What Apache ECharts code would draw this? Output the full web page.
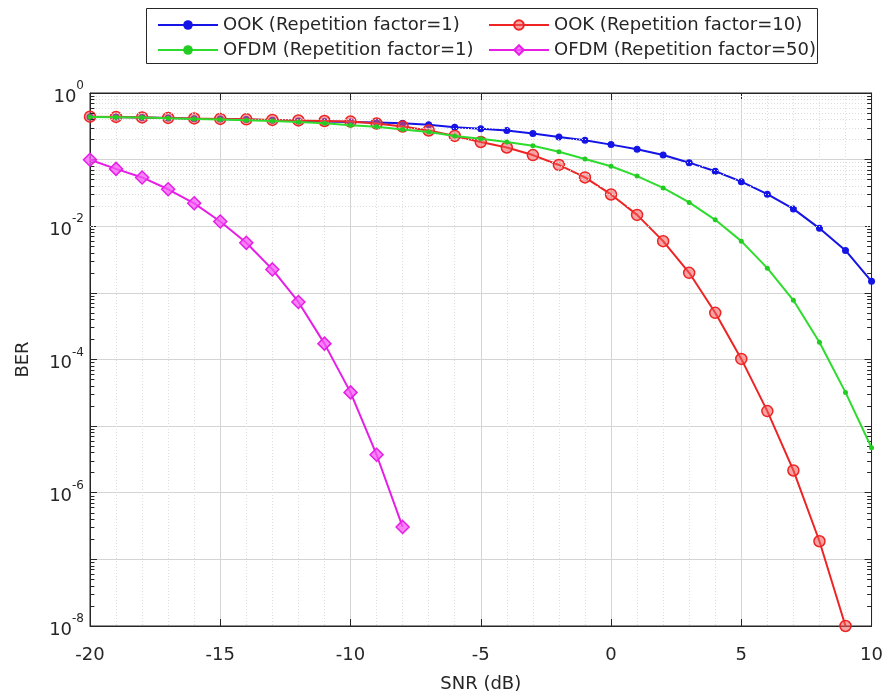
<!DOCTYPE html>
<html>
<head>
<meta charset="utf-8">
<script src="https://cdn.jsdelivr.net/npm/echarts@6/dist/echarts.min.js"></script>
<style>
  html, body { margin: 0; padding: 0; background: #ffffff; }
  #chart { width: 886px; height: 698px; }
</style>
</head>
<body>
<div id="chart"></div>
<script>
// SNR sweep in dB
const snr = [-20, -19, -18, -17, -16, -15, -14, -13, -12, -11, -10, -9, -8, -7, -6, -5,
             -4, -3, -2, -1, 0, 1, 2, 3, 4, 5, 6, 7, 8, 9, 10];

// Bit error rates per scheme
const ookRep1 = [0.437, 0.435, 0.427, 0.420, 0.412, 0.406, 0.399, 0.389, 0.381, 0.372, 0.366,
                 0.360, 0.351, 0.333, 0.307, 0.290, 0.274, 0.247, 0.218, 0.195, 0.168, 0.1435,
                 0.117, 0.090, 0.067, 0.0467, 0.0303, 0.0182, 0.0093, 0.00434, 0.00149];
const ookRep10 = [0.441, 0.437, 0.430, 0.423, 0.415, 0.408, 0.402, 0.395, 0.388, 0.380, 0.372,
                  0.348, 0.314, 0.274, 0.227, 0.184, 0.152, 0.117, 0.0832, 0.054, 0.030, 0.0148,
                  0.00598, 0.0020, 5.02e-4, 1.02e-4, 1.68e-5, 2.16e-6, 1.87e-7, 1.0e-8];
const ofdmRep1 = [0.437, 0.434, 0.427, 0.417, 0.408, 0.399, 0.389, 0.379, 0.366, 0.351, 0.328,
                  0.311, 0.284, 0.259, 0.226, 0.205, 0.184, 0.161, 0.131, 0.102, 0.0796, 0.0566,
                  0.0376, 0.0228, 0.01248, 0.00598, 0.00235, 7.74e-4, 1.81e-4, 3.21e-5, 4.73e-6];
const ofdmRep50 = [0.0997, 0.0726, 0.054, 0.0359, 0.0221, 0.0118, 0.00564, 0.00225, 7.31e-4,
                   1.73e-4, 3.21e-5, 3.72e-6, 3.07e-7];

const seriesNames = ['OOK (Repetition factor=1)', 'OOK (Repetition factor=10)',
                     'OFDM (Repetition factor=1)', 'OFDM (Repetition factor=50)'];

// Axis ranges
const snrMin = -20, snrMax = 10, snrStep = 5;
const berMin = 1e-8, berMax = 1;

const FONT = 'DejaVu Sans';
const INK = '#262626';

function pairs(values) {
  return values.map((v, i) => [snr[i], v]);
}

// Minor log grid (2..9 per decade) and short minor ticks on both vertical edges
const minorGrid = [];
const minorTicks = [];
for (let e = -8; e < 0; e++) {
  for (let k = 2; k <= 9; k++) {
    const v = k * Math.pow(10, e);
    minorGrid.push({ yAxis: v });
    minorTicks.push([{ coord: [snrMin, v] }, { coord: [snrMin + 0.17, v] }]);
    minorTicks.push([{ coord: [snrMax - 0.17, v] }, { coord: [snrMax, v] }]);
  }
}

const chart = echarts.init(document.getElementById('chart'), null, { renderer: 'canvas' });

const legendText = { fontFamily: FONT, fontSize: 18, color: INK, lineHeight: 20 };
const edgeLine = { show: true, onZero: false, lineStyle: { color: INK, width: 1 } };
const edgeTick = { show: true, inside: true, length: 7, lineStyle: { color: INK } };

chart.setOption({
  animation: false,
  backgroundColor: '#ffffff',
  textStyle: { fontFamily: FONT },
  grid: { left: 90, right: 10, top: 93, bottom: 64, show: true, borderColor: INK, borderWidth: 1, backgroundColor: '#ffffff' },
  graphic: [{
    type: 'rect', z: 1, silent: true,
    shape: { x: 146.5, y: 8.5, width: 671, height: 55 },
    style: { fill: 'transparent', stroke: INK, lineWidth: 1 }
  }],
  legend: [{
    orient: 'vertical', left: 152, top: 10, itemWidth: 60, itemHeight: 12, itemGap: 5,
    textStyle: legendText, data: [seriesNames[0], seriesNames[2]]
  }, {
    orient: 'vertical', left: 483, top: 10, itemWidth: 60, itemHeight: 12, itemGap: 5,
    textStyle: legendText, data: [seriesNames[1], seriesNames[3]]
  }],
  xAxis: [{
    type: 'value', min: snrMin, max: snrMax, interval: snrStep,
    name: 'SNR (dB)', nameLocation: 'middle', nameGap: 49,
    nameTextStyle: { fontFamily: FONT, fontSize: 18, color: INK },
    axisLine: edgeLine,
    axisTick: edgeTick,
    axisLabel: { fontFamily: FONT, fontSize: 18, color: INK, margin: 20 },
    splitLine: { show: true, lineStyle: { color: '#d4d4d4', width: 1 } },
    minorTick: { show: false, splitNumber: 5 },
    minorSplitLine: { show: true, lineStyle: { color: '#dedede', width: 1, type: [1, 2] } }
  }, {
    type: 'value', min: snrMin, max: snrMax, interval: snrStep, position: 'top',
    axisLine: edgeLine,
    axisTick: edgeTick,
    axisLabel: { show: false },
    splitLine: { show: false }
  }],
  yAxis: [{
    type: 'log', logBase: 10, min: berMin, max: berMax,
    name: 'BER', nameLocation: 'middle', nameGap: 58,
    nameTextStyle: { fontFamily: FONT, fontSize: 18, color: INK },
    axisLine: edgeLine,
    axisTick: edgeTick,
    axisLabel: {
      margin: 6, color: INK,
      formatter: v => {
        const e = Math.round(Math.log10(v));
        return e % 2 === 0 ? '{b|10}{s|' + e + '}' : '';
      },
      rich: {
        b: { fontFamily: FONT, fontSize: 18, color: INK, padding: [8, 0, 0, 0] },
        s: { fontFamily: FONT, fontSize: 12, color: INK, padding: [0, 0, 14, 0] }
      }
    },
    splitLine: { show: true, lineStyle: { color: '#d4d4d4', width: 1 } }
  }, {
    type: 'log', logBase: 10, min: berMin, max: berMax, position: 'right',
    axisLine: edgeLine,
    axisTick: edgeTick,
    axisLabel: { show: false },
    splitLine: { show: false }
  }],
  series: [{
    name: 'log-minor-grid', type: 'line', data: [], silent: true,
    markLine: {
      silent: true, symbol: 'none', animation: false, label: { show: false },
      lineStyle: { color: '#dcdcdc', width: 1, type: [1, 2] },
      data: minorGrid
    }
  }, {
    name: 'log-minor-ticks', type: 'line', data: [], silent: true,
    markLine: {
      silent: true, symbol: 'none', animation: false, label: { show: false },
      lineStyle: { color: INK, width: 1, type: 'solid' },
      data: minorTicks
    }
  }, {
    name: seriesNames[0], type: 'line', data: pairs(ookRep1), z: 3,
    symbol: 'circle', symbolSize: 7,
    lineStyle: { color: '#1414e6', width: 2 },
    itemStyle: { color: '#1414e6' }
  }, {
    name: seriesNames[1], type: 'line', data: pairs(ookRep10), z: 4,
    symbol: 'circle', symbolSize: 11,
    lineStyle: { color: '#ee2424', width: 2 },
    itemStyle: { color: 'rgba(240,90,90,0.55)', borderColor: '#ee2424', borderWidth: 1.5 }
  }, {
    name: seriesNames[2], type: 'line', data: pairs(ofdmRep1), z: 5,
    symbol: 'circle', symbolSize: 5,
    lineStyle: { color: '#2edc2e', width: 2 },
    itemStyle: { color: '#22cc22' }
  }, {
    name: seriesNames[3], type: 'line', data: pairs(ofdmRep50), z: 6,
    symbol: 'diamond', symbolSize: 13,
    lineStyle: { color: '#e61ee6', width: 2 },
    itemStyle: { color: 'rgba(245,90,245,0.75)', borderColor: '#e61ee6', borderWidth: 1.5 }
  }]
});
</script>
</body>
</html>
